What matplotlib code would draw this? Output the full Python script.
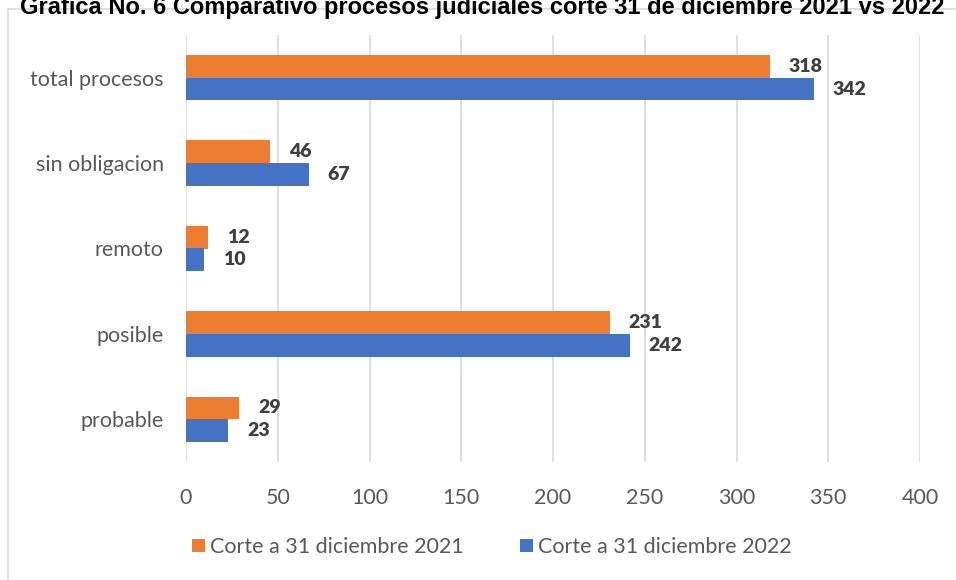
import numpy as np
import matplotlib.pyplot as plt
from matplotlib.patches import Rectangle

categories = ['probable', 'posible', 'remoto', 'sin obligacion', 'total procesos']
corte_2021 = [29, 231, 12, 46, 318]
corte_2022 = [23, 242, 10, 67, 342]
xticks = [0, 50, 100, 150, 200, 250, 300, 350, 400]

orange = '#ED7D31'
blue = '#4472C4'
txt = '#595959'

plt.rcParams['font.family'] = ['Lato', 'DejaVu Sans']

fig = plt.figure(figsize=(9.56, 5.8), dpi=100)
W, H = 956, 580
ax = fig.add_axes([186 / W, 1 - 462 / H, (920 - 186) / W, (462 - 35) / H])

y = np.arange(len(categories))
h = 0.265
b1 = ax.barh(y + h / 2, corte_2021, height=h, color=orange, label='Corte a 31 diciembre 2021', zorder=3)
b2 = ax.barh(y - h / 2, corte_2022, height=h, color=blue, label='Corte a 31 diciembre 2022', zorder=3)

for bars, vals in [(b1, corte_2021), (b2, corte_2022)]:
    for bar, v in zip(bars, vals):
        ax.annotate(str(v), (bar.get_width(), bar.get_y() + bar.get_height() / 2),
                    xytext=(13.5, 0), textcoords='offset points', va='center', ha='left',
                    fontsize=14, fontweight='heavy', color='#404040')

ax.set_xlim(0, 400)
ax.set_ylim(-0.5, len(categories) - 0.5)
ax.set_xticks(xticks)
ax.set_yticks(y)
ax.set_yticklabels(categories)
ax.tick_params(axis='both', length=0, labelsize=15.5, colors=txt)
ax.tick_params(axis='x', pad=19)
ax.tick_params(axis='y', pad=16)
ax.grid(axis='x', color='#D9D9D9', linewidth=1.2, zorder=0)
for s in ax.spines.values():
    s.set_visible(False)

ax.legend(loc='center', bbox_to_anchor=(492 / W, 1 - 547 / H), bbox_transform=fig.transFigure,
          ncol=2, frameon=False, fontsize=15.5, labelcolor=txt, handlelength=0.6, handleheight=0.6,
          handletextpad=0.25, columnspacing=2.6)

fig.patches.append(Rectangle((8 / W, -0.1), 1.2, 1 - 9 / H + 0.1, transform=fig.transFigure,
                             fill=False, edgecolor='#D9D9D9', linewidth=1.2))

fig.text(20 / W, 1 - 14 / H, 'Grafica No. 6 Comparativo procesos judiciales corte 31 de diciembre 2021 vs 2022',
         fontsize=17, fontweight='bold', family=['Liberation Sans', 'DejaVu Sans'], va='baseline', ha='left')

fig.savefig('out.png', dpi=100)
